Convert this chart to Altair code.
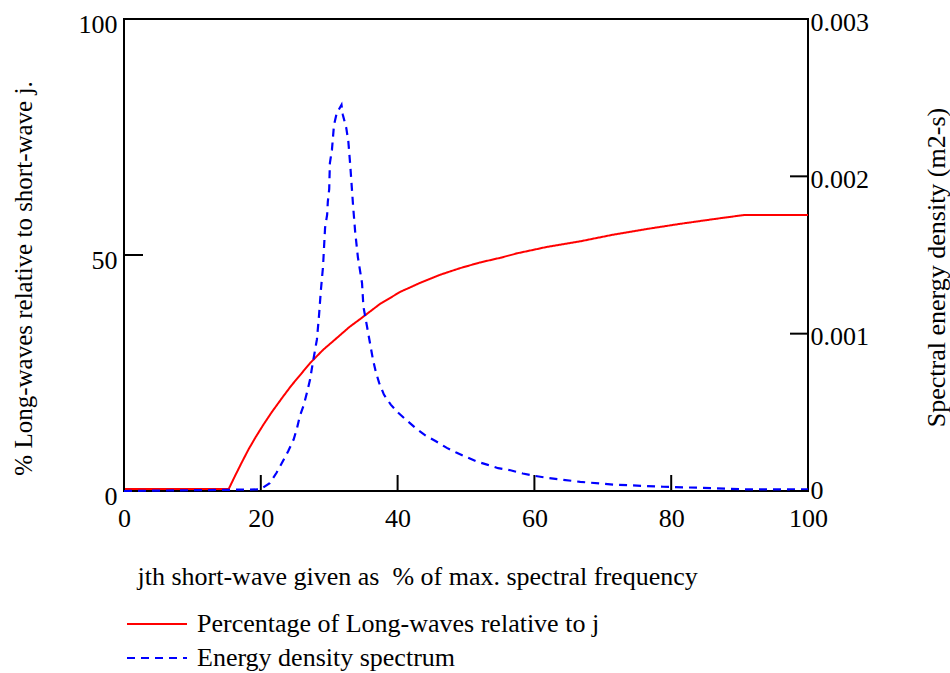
import altair as alt
import pandas as pd

# ---------------- data ----------------
x_ticks = [0, 20, 40, 60, 80, 100]
left_ticks = [0, 50, 100]
right_ticks = [0, 0.001, 0.002, 0.003]

red_x = [0, 15.3, 16.2, 17.2, 18.2, 19.2, 20.4, 21.6, 23.1, 24.5, 26.0, 27.2, 29.1,
         31.1, 33.0, 34.5, 37.4, 40.4, 43.3, 46.2, 49.1, 52.0, 55.0, 57.6, 61.8,
         66.7, 71.5, 76.4, 81.3, 86.2, 90.8, 100]
red_y = [0.4, 0.4, 3.1, 6.0, 8.8, 11.3, 14.1, 16.7, 19.7, 22.4, 25.0, 27.1, 29.9,
         32.4, 34.8, 36.4, 39.6, 42.2, 44.1, 45.8, 47.2, 48.4, 49.4, 50.4, 51.7,
         52.9, 54.3, 55.5, 56.6, 57.6, 58.5, 58.5]

blue_x = [0, 19.9, 21.3, 22.3, 23.1, 24.0, 24.8, 25.3, 25.7, 26.3, 26.8, 27.2, 27.6,
          27.9, 28.2, 28.5, 28.8, 29.1, 29.2, 29.4, 29.7, 29.8, 30.0, 30.1, 30.4,
          30.7, 31.1, 31.8, 32.0, 32.5, 32.8, 33.1, 33.5, 33.8, 34.2, 34.8, 35.0,
          35.7, 36.4, 36.8, 37.3, 38.0, 39.0, 40.1, 41.3, 42.7, 44.1, 45.6, 47.2,
          48.5, 50.1, 51.6, 53.2, 54.7, 56.5, 58.3, 59.8, 61.8, 66.7, 71.5, 78.8,
          86.2, 91.1, 100]
blue_y = [0, 0.00001, 0.00005, 0.000116, 0.000179, 0.000253, 0.000327, 0.000401,
          0.000475, 0.000549, 0.000634, 0.000708, 0.000814, 0.000888, 0.000962,
          0.00111, 0.001284, 0.001427, 0.001512, 0.001675, 0.001756, 0.00184,
          0.001919, 0.002084, 0.002168, 0.002327, 0.002401, 0.002454, 0.00239,
          0.002306, 0.002221, 0.002058, 0.001808, 0.001646, 0.001484, 0.001322,
          0.001173, 0.001004, 0.000835, 0.00076, 0.000687, 0.000613, 0.000549,
          0.000497, 0.00045, 0.000397, 0.000352, 0.000316, 0.000274, 0.000246,
          0.000215, 0.000187, 0.000166, 0.000145, 0.000132, 0.000111, 0.000098,
          0.000084, 0.000058, 0.000041, 0.000027, 0.000018, 0.00001, 0.00001]

SER_RED = "Percentage of Long-waves relative to j"
SER_BLUE = "Energy density spectrum"

X_TITLE = "jth short-wave given as\u00a0 % of max. spectral frequency"
YL_TITLE = "% Long-waves relative to short-wave j."
YR_TITLE = "Spectral energy density (m2-s)"

# ---------------- layout ----------------
W, H = 684, 472
FONT = "Liberation Serif, Times New Roman, serif"
FS = 26

red_df = pd.DataFrame({"x": red_x, "y": red_y, "series": SER_RED})
blue_df = pd.DataFrame({"x": blue_x, "e": blue_y, "series": SER_BLUE})

x_scale = alt.Scale(domain=[0, 100], nice=False, zero=False)
yl_scale = alt.Scale(domain=[0, 100], nice=False)
yr_scale = alt.Scale(domain=[0, 0.003], nice=False)

color_scale = alt.Scale(domain=[SER_RED, SER_BLUE], range=["#ff0000", "#0000ff"])
dash_scale = alt.Scale(domain=[SER_RED, SER_BLUE], range=[[1, 0], [8, 6]])

legend = alt.Legend(
    title=None, orient="none", legendX=2, legendY=592, direction="vertical",
    symbolType="stroke", symbolSize=3600, symbolStrokeWidth=2,
    clipHeight=26, rowPadding=8, labelOffset=9,
    labelFont=FONT, labelFontSize=FS, labelColor="black", labelLimit=0,
    padding=0,
)

x_axis = alt.Axis(
    values=x_ticks, domain=False, ticks=False, grid=False, labelFlush=False,
    labelFont=FONT, labelFontSize=FS, labelColor="black", labelPadding=14,
    labelBaseline="top",
    title=X_TITLE, titleFont=FONT, titleFontSize=FS, titleFontWeight="normal",
    titleColor="black", titleX=13, titleY=93, titleAlign="left",
    titleBaseline="alphabetic", titleAnchor="start",
)

yl_axis = alt.Axis(
    orient="left", values=left_ticks, domain=False, ticks=False, grid=False,
    labelFont=FONT, labelFontSize=FS, labelColor="black", labelPadding=7,
    labelOffset=5, labelBaseline="middle",
    title=YL_TITLE, titleFont=FONT, titleFontSize=25, titleFontWeight="normal",
    titleColor="black", titleAngle=270, titleX=-101, titleY=259,
    titleAlign="center", titleBaseline="middle",
)

yr_axis = alt.Axis(
    orient="right", values=right_ticks, domain=False, ticks=False, grid=False,
    labelFont=FONT, labelFontSize=FS, labelColor="black", labelPadding=2,
    labelOffset={"condition": {"test": "datum.value == 0", "value": -1}, "value": 3},
    labelBaseline="middle",
    labelExpr="datum.value == 0 ? '0' : format(datum.value, '.3f')",
    title=YR_TITLE, titleFont=FONT, titleFontSize=FS, titleFontWeight="normal",
    titleColor="black", titleAngle=270, titleX=128, titleY=248,
    titleAlign="center", titleBaseline="middle",
)

red_line = alt.Chart(red_df).mark_line(strokeWidth=2).encode(
    x=alt.X("x:Q", scale=x_scale, axis=x_axis),
    y=alt.Y("y:Q", scale=yl_scale, axis=yl_axis),
    color=alt.Color("series:N", scale=color_scale, legend=legend),
    strokeDash=alt.StrokeDash("series:N", scale=dash_scale, legend=legend),
    order="x:Q",
)

xt = alt.Chart(pd.DataFrame({"x": x_ticks})).mark_rule(color="black", strokeWidth=2).encode(
    x=alt.X("x:Q", scale=x_scale, axis=x_axis),
    y=alt.value(H), y2=alt.value(H - 16),
)
lt = alt.Chart(pd.DataFrame({"y": left_ticks})).mark_rule(color="black", strokeWidth=2).encode(
    y=alt.Y("y:Q", scale=yl_scale, axis=yl_axis),
    x=alt.value(0), x2=alt.value(19),
)

blue_line = alt.Chart(blue_df).mark_line(strokeWidth=2.2).encode(
    x=alt.X("x:Q", scale=x_scale, axis=x_axis),
    y=alt.Y("e:Q", scale=yr_scale, axis=yr_axis),
    color=alt.Color("series:N", scale=color_scale, legend=legend),
    strokeDash=alt.StrokeDash("series:N", scale=dash_scale, legend=legend),
    order="x:Q",
)
rt = alt.Chart(pd.DataFrame({"e": right_ticks})).mark_rule(color="black", strokeWidth=2).encode(
    y=alt.Y("e:Q", scale=yr_scale, axis=yr_axis),
    x=alt.value(W), x2=alt.value(W - 18),
)

left = alt.layer(red_line, xt, lt)
right = alt.layer(blue_line, rt)

chart = alt.layer(left, right).resolve_scale(
    y="independent", color="shared", strokeDash="shared"
).properties(
    width=W, height=H,
    padding={"left": 124, "top": 19, "right": 950 - 124 - W, "bottom": 673 - 19 - H},
    autosize=alt.AutoSizeParams(type="none"),
    background="white",
).configure_view(stroke="black", strokeWidth=2)

chart.save("out.html", embed_options={"renderer": "svg", "actions": False})
